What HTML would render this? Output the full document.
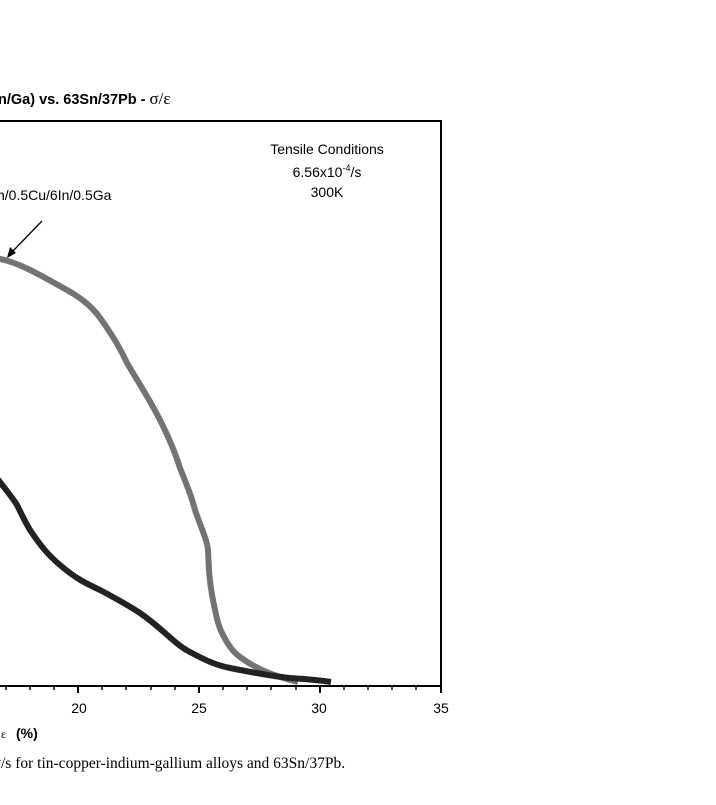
<!DOCTYPE html>
<html><head><style>
body{margin:0;background:#fff;width:716px;height:800px;overflow:hidden}
</style></head><body>
<svg width="716" height="800" xmlns="http://www.w3.org/2000/svg">
<text x="-2" y="104" font-family="Liberation Sans, sans-serif" font-size="14.5" font-weight="bold">n/Ga) vs. 63Sn/37Pb - <tspan font-weight="normal" font-family="Liberation Serif, serif" font-size="17">σ/ε</tspan></text>
<rect x="-5" y="121" width="446" height="565" fill="none" stroke="#000" stroke-width="2"/>
<g stroke="#000" stroke-width="2">
<line x1="78" y1="686" x2="78" y2="693"/><line x1="199" y1="686" x2="199" y2="693"/><line x1="320" y1="686" x2="320" y2="693"/><line x1="441" y1="686" x2="441" y2="693"/>
</g>
<g stroke="#000" stroke-width="1.5">
<line x1="6" y1="686" x2="6" y2="690"/><line x1="30" y1="686" x2="30" y2="690"/><line x1="54" y1="686" x2="54" y2="690"/>
<line x1="102" y1="686" x2="102" y2="690"/><line x1="126" y1="686" x2="126" y2="690"/><line x1="151" y1="686" x2="151" y2="690"/><line x1="175" y1="686" x2="175" y2="690"/>
<line x1="223" y1="686" x2="223" y2="690"/><line x1="247" y1="686" x2="247" y2="690"/><line x1="271" y1="686" x2="271" y2="690"/><line x1="296" y1="686" x2="296" y2="690"/>
<line x1="344" y1="686" x2="344" y2="690"/><line x1="368" y1="686" x2="368" y2="690"/><line x1="392" y1="686" x2="392" y2="690"/><line x1="416" y1="686" x2="416" y2="690"/>
</g>
<g font-family="Liberation Sans, sans-serif" font-size="14" text-anchor="middle">
<text x="79" y="713">20</text><text x="199" y="713">25</text><text x="319" y="713">30</text><text x="441" y="713">35</text>
<text x="327" y="154">Tensile Conditions</text>
<text x="327" y="177">6.56x10<tspan font-size="9" dy="-6">-4</tspan><tspan dy="6">/s</tspan></text>
<text x="327" y="197">300K</text>
</g>
<text x="-3" y="200" font-family="Liberation Sans, sans-serif" font-size="14">n/0.5Cu/6In/0.5Ga</text>
<text x="16" y="738" font-family="Liberation Sans, sans-serif" font-size="14" font-weight="bold">(%)</text>
<text x="1" y="738" font-family="Liberation Serif, serif" font-size="12">ε</text>
<text x="-4" y="768" font-family="Liberation Serif, serif" font-size="15.5"><tspan font-size="10" dy="-6">4</tspan><tspan dy="6">/s for tin-copper-indium-gallium alloys and 63Sn/37Pb.</tspan></text>
<line x1="42" y1="221" x2="12" y2="252" stroke="#000" stroke-width="1.3"/>
<polygon points="7,258 10,247 16,253" fill="#000"/>
<path d="M-5,257 L0,259 C20,263 40,275 67,290 C85,300 95,310 103,322 C114,338 120,348 127,363 C140,385 150,400 160,420 C170,440 176,455 180,468 C188,488 192,498 195,510 C202,530 207,540 208,550 L209,570 C210,585 212,595 213,600 C216,615 218,625 222,633 C228,645 233,652 240,657 C255,668 270,675 298,682" fill="none" stroke="#737373" stroke-width="6"/>
<path d="M-5,476 L0,482 C6,490 12,497 17,505 C22,515 25,522 30,530 C40,545 48,555 60,565 C75,578 85,583 100,590 C115,598 128,605 140,613 C150,620 157,626 165,633 C175,642 182,648 190,652 C205,660 215,665 230,668 C250,672 270,676 290,678 C305,679 318,680 331,682" fill="none" stroke="#222" stroke-width="6"/>
</svg>
</body></html>
